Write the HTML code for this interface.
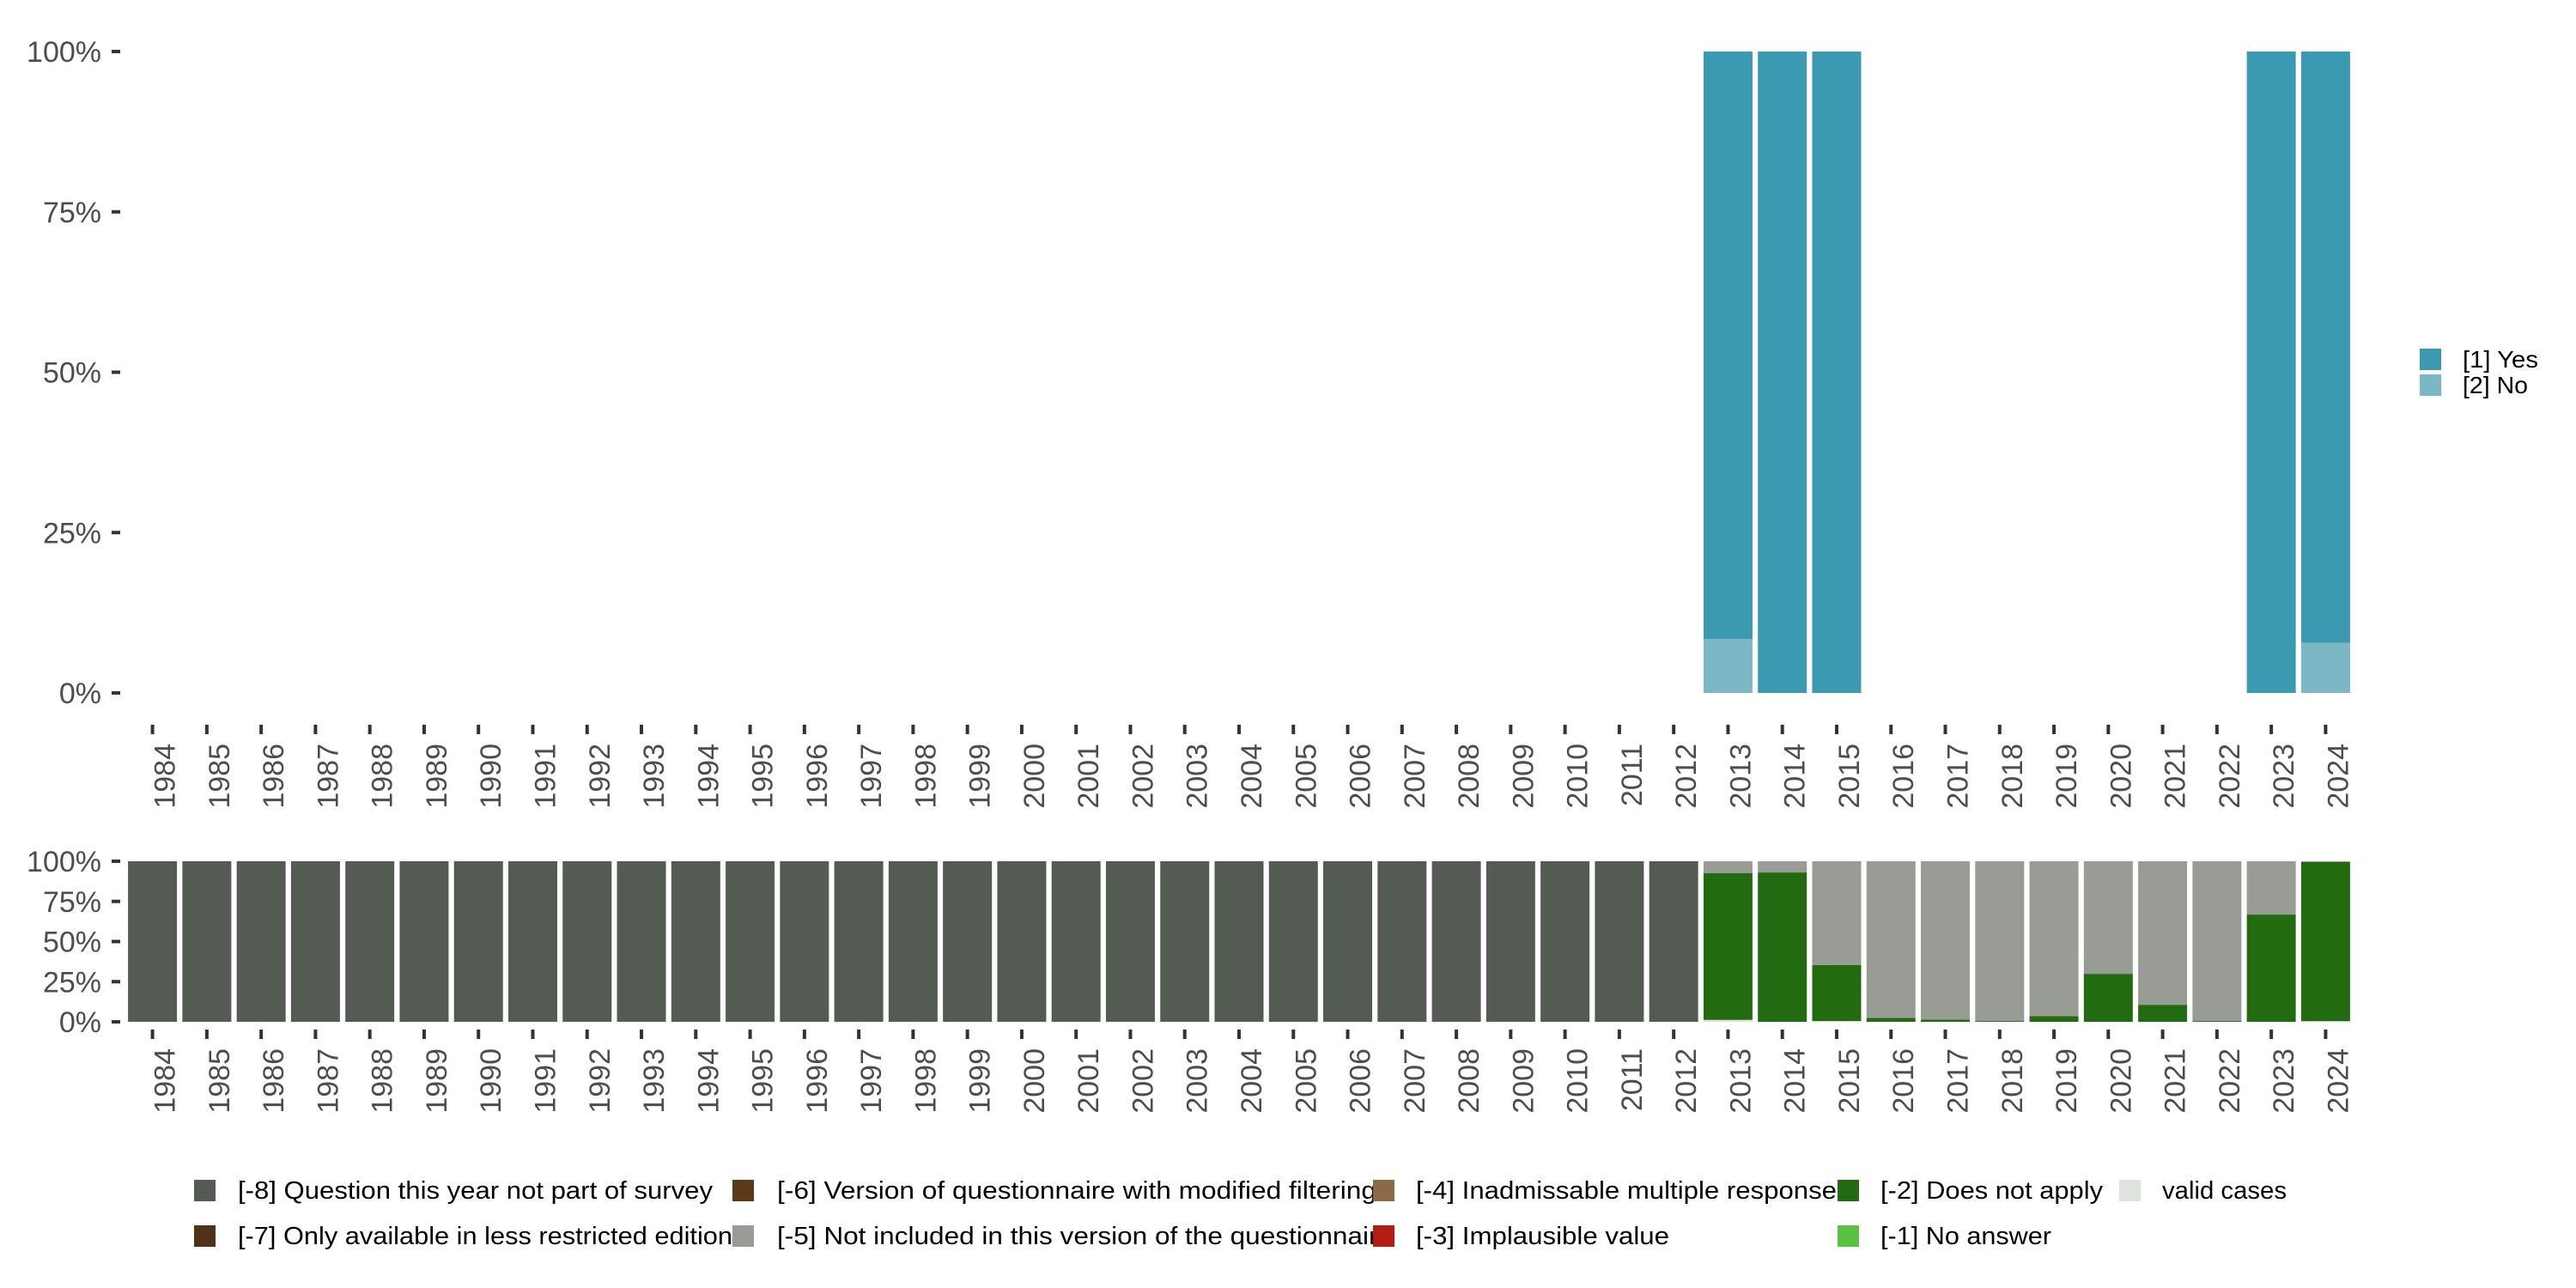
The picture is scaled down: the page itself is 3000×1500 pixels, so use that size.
<!DOCTYPE html>
<html><head><meta charset="utf-8"><style>
html,body{margin:0;padding:0;background:#fff;}
svg{display:block;font-family:"Liberation Sans",sans-serif;}
</style></head><body>
<svg id="chart" width="3000" height="1500" viewBox="0 0 3000 1500" xmlns="http://www.w3.org/2000/svg">
<g id="top"></g>
<g id="bot"></g>
<g id="legendTop"></g>
<g id="legendBot"></g>
</svg>
<script>
const years = [];
for (let y = 1984; y <= 2024; y++) years.push(y);
const topSeriesNames = ["[1] Yes", "[2] No"];
const topColors = ["#3b99b1", "#7ab8c5"];
const noPct = {2013: 8.4, 2014: 0, 2015: 0, 2023: 0, 2024: 7.8};
const yesPct = {2013: 91.6, 2014: 100, 2015: 100, 2023: 100, 2024: 92.2};
const yTickLabels = ["0%", "25%", "50%", "75%", "100%"];
const yTickValues = [0, 25, 50, 75, 100];

const botNames = ["[-8] Question this year not part of survey","[-7] Only available in less restricted edition","[-6] Version of questionnaire with modified filtering","[-5] Not included in this version of the questionnaire","[-4] Inadmissable multiple response","[-3] Implausible value","[-2] Does not apply","[-1] No answer","valid cases"];
const botColors = ["#545b53","#4f3217","#5c3a17","#989c94","#8c6a45","#b51d14","#226b10","#5bc140","#dfe3dd"];
const m8 = {}; for (let y = 1984; y <= 2012; y++) m8[y] = 100;
const m5 = {2013: 7.5, 2014: 7, 2015: 64.7, 2016: 97.5, 2017: 98.6, 2018: 99.5, 2019: 96.4, 2020: 70.1, 2021: 89.4, 2022: 99.5, 2023: 33.2, 2024: 0.5};
const m2 = {2013: 91.3, 2014: 93, 2015: 34.8, 2016: 2.5, 2017: 1.4, 2018: 0.5, 2019: 3.6, 2020: 29.9, 2021: 10.6, 2022: 0.5, 2023: 66.8, 2024: 99.1};
const valid = {2013: 1.2, 2014: 0, 2015: 0.5, 2024: 0.4};

const NS = "http://www.w3.org/2000/svg";
function mk(parent, tag, attrs) {
  const e = document.createElementNS(NS, tag);
  for (const k in attrs) e.setAttribute(k, attrs[k]);
  parent.appendChild(e); return e;
}
const band = 63.27, x0 = 177.6, bw = 57;
function xc(i) { return x0 + i * band; }
const topY = v => 807 - 747 * v / 100;
const botY = v => 1190 - 187 * v / 100;

function axes(g, yf, labelTopY, tickY0, pre) {
  yTickValues.forEach((v, i) => {
    const t = mk(g, "line", {x1: 130, x2: 140, y1: yf(v), y2: yf(v), stroke: "#333", "stroke-width": 4});
    
    
    const l = mk(g, "text", {x: 118, y: yf(v) + 12, "text-anchor": "end", "font-size": 34, fill: "#4d4d4d"});
    l.textContent = yTickLabels[i];
    
    
  });
  years.forEach((yr, i) => {
    const x = xc(i);
    const t = mk(g, "line", {x1: x, x2: x, y1: tickY0, y2: tickY0 + 11, stroke: "#333", "stroke-width": 4});
    
    
    const l = mk(g, "text", {x: 0, y: 0, "text-anchor": "end", "font-size": 34, fill: "#4d4d4d", transform: `translate(${x + 26},${labelTopY}) rotate(-90)`});
    l.textContent = yr;
    
    
  });
}

const gt = document.getElementById("top");
axes(gt, topY, 866, 844, "top");
years.forEach((yr, i) => {
  if (yesPct[yr] === undefined) return;
  const no = noPct[yr] || 0, yes = yesPct[yr];
  const x = xc(i) - bw / 2;
  if (no > 0) {
    const r = mk(gt, "rect", {x: x, width: bw, y: topY(no), height: topY(0) - topY(no), fill: topColors[1]});
    
    
  }
  const r2 = mk(gt, "rect", {x: x, width: bw, y: topY(no + yes), height: topY(no) - topY(no + yes), fill: topColors[0]});
  
  
});

const gb = document.getElementById("bot");
axes(gb, botY, 1221, 1199, "bottom");
years.forEach((yr, i) => {
  const x = xc(i) - bw / 2;
  const parts = [[8, valid[yr] || 0], [6, m2[yr] || 0], [3, m5[yr] || 0], [0, m8[yr] || 0]];
  let acc = 0;
  parts.forEach(([ci, v]) => {
    if (v <= 0) return;
    const r = mk(gb, "rect", {x: x, width: bw, y: botY(acc + v), height: botY(acc) - botY(acc + v), fill: botColors[ci]});
    
    
    acc += v;
  });
});

const lt = document.getElementById("legendTop");
topSeriesNames.forEach((n, i) => {
  const y = 406 + i * 30;
  const s = mk(lt, "rect", {x: 2818, y: y, width: 25, height: 25, fill: topColors[i]});
  
  
  const t = mk(lt, "text", {x: 2868, y: y + 22, "font-size": 28, fill: "#000", textLength: i === 0 ? 88 : 76, lengthAdjust: "spacingAndGlyphs"});
  t.textContent = n;
  
  
});

const lb = document.getElementById("legendBot");
const colSw = [226, 853, 1599, 2140, 2468];
const colTx = [277, 905, 1649, 2190, 2518];
const txtLen = [[553, 576], [698, 717], [490, 295], [259, 199], [145]];
const layout = [[0, 1], [2, 3], [4, 5], [6, 7], [8]];
layout.forEach((col, c) => {
  col.forEach((idx, r) => {
    const y = 1374 + r * 53;
    const s = mk(lb, "rect", {x: colSw[c], y: y, width: 25, height: 25, fill: botColors[idx]});
    
    
    const t = mk(lb, "text", {x: colTx[c], y: y + 22, "font-size": 29, fill: "#000", textLength: txtLen[c][r], lengthAdjust: "spacingAndGlyphs"});
    t.textContent = botNames[idx];
    
    
  });
});
</script>
</body></html>
